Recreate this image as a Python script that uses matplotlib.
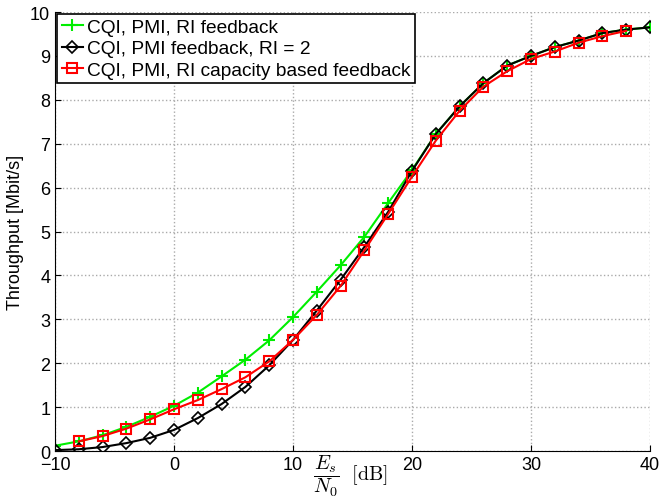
import numpy as np
import matplotlib
matplotlib.use('Agg')
import matplotlib.pyplot as plt

# Данные
snr = [-10, -8, -6, -4, -2, 0, 2, 4, 6, 8, 10, 12, 14, 16, 18, 20,
       22, 24, 26, 28, 30, 32, 34, 36, 38, 40]
thr_ri = [0.12, 0.22, 0.36, 0.55, 0.78, 1.03, 1.33, 1.70, 2.08, 2.52,
          3.05, 3.63, 4.23, 4.88, 5.65, 6.40, 7.22, 7.85, 8.38, 8.78,
          9.00, 9.20, 9.35, 9.52, 9.60, 9.65]
thr_ri2 = [0.02, 0.04, 0.09, 0.18, 0.30, 0.48, 0.75, 1.07, 1.46, 1.95,
           2.53, 3.20, 3.90, 4.65, 5.45, 6.38, 7.22, 7.85, 8.38, 8.78,
           9.00, 9.20, 9.35, 9.52, 9.60, 9.65]
snr_cap = snr[1:-1]
thr_cap = [0.22, 0.34, 0.51, 0.72, 0.95, 1.16, 1.41, 1.68, 2.04,
           2.53, 3.10, 3.76, 4.57, 5.40, 6.25, 7.07, 7.75, 8.30, 8.65,
           8.93, 9.10, 9.30, 9.45, 9.57]

labels = ['CQI, PMI, RI feedback', 'CQI, PMI feedback, RI = 2',
          'CQI, PMI, RI capacity based feedback']

plt.rcParams['font.family'] = ['Liberation Sans', 'DejaVu Sans']
plt.rcParams['mathtext.fontset'] = 'cm'

fig = plt.figure(figsize=(6.59, 5.02), dpi=100)
ax = fig.add_axes([0.0835, 0.0996, 0.9028, 0.8745])

ax.plot(snr, thr_ri, color='#00ee00', marker='+', markersize=9,
        markeredgewidth=1.5, linewidth=1.5, label=labels[0])
ax.plot(snr, thr_ri2, color='black', marker='D', markersize=6.5,
        markerfacecolor='none', markeredgewidth=1.2, linewidth=1.5, label=labels[1])
ax.plot(snr_cap, thr_cap, color='red', marker='s', markersize=7,
        markerfacecolor='none', markeredgewidth=1.5, linewidth=1.5, label=labels[2])

ax.set_xlim(-10, 40)
ax.set_ylim(0, 10)
ax.set_xticks([-10, 0, 10, 20, 30, 40])
ax.set_yticks(range(0, 11))
ax.grid(True, linestyle=':', color='#aaaaaa', linewidth=1)
ax.spines['top'].set_visible(False)
ax.spines['right'].set_visible(False)
ax.tick_params(labelsize=13, direction='in', length=4)

ax.set_xlabel(r'$\dfrac{E_s}{N_0}\ \ \mathrm{[dB]}$', fontsize=14.5)
ax.xaxis.set_label_coords(0.497, -0.005)
ax.set_ylabel('Throughput [Mbit/s]', fontsize=13)

leg = ax.legend(loc='upper left', fontsize=13.8, fancybox=False, framealpha=1,
                edgecolor='black', borderpad=0.25, labelspacing=0.2,
                handlelength=1.1, handletextpad=0.2, borderaxespad=0.1)
leg.get_frame().set_linewidth(1.2)

fig.savefig('out.png', dpi=100)
